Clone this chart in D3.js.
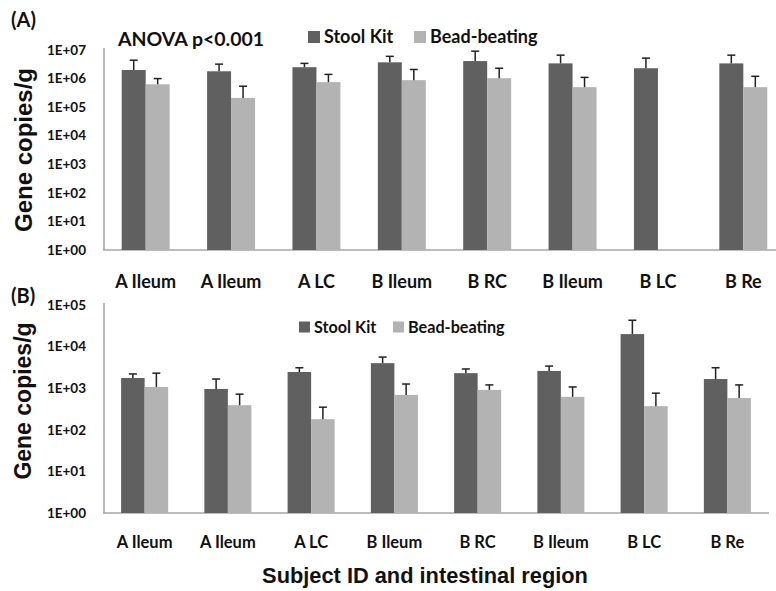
<!DOCTYPE html>
<html><head><meta charset="utf-8">
<script src="https://cdn.jsdelivr.net/npm/d3@7/dist/d3.min.js"></script>
<style>body{margin:0;background:#fff}svg{display:block}</style>
</head><body>
<svg id="c" width="776" height="591"></svg>
<script>
// ---- data ----
const categories = ["A Ileum","A Ileum","A LC","B Ileum","B RC","B Ileum","B LC","B Re"];
const seriesNames = ["Stool Kit","Bead-beating"];
// Panel A
const aStool   = [2.0e6, 1.8e6, 2.5e6, 3.7e6, 4.1e6, 3.4e6, 2.3e6, 3.4e6];
const aStoolSD = [2.4e6, 1.4e6, 0.9e6, 2.3e6, 5.0e6, 3.2e6, 2.9e6, 3.2e6];
const aBead    = [6.3e5, 2.1e5, 7.5e5, 8.8e5, 1.03e6, 5.0e5, null, 5.0e5];
const aBeadSD  = [3.7e5, 3.3e5, 6.5e5, 1.2e6, 1.27e6, 6.0e5, null, 7.0e5];
const aTicks   = ["1E+00","1E+01","1E+02","1E+03","1E+04","1E+05","1E+06","1E+07"];
// Panel B
const bStool   = [1.76e3, 9.6e2, 2.45e3, 4.0e3, 2.3e3, 2.6e3, 2.0e4, 1.66e3];
const bStoolSD = [0.44e3, 0.7e3, 0.65e3, 1.6e3, 0.6e3, 0.8e3, 2.3e4, 1.44e3];
const bBead    = [1.07e3, 3.9e2, 1.8e2, 6.9e2, 9.1e2, 6.2e2, 3.7e2, 5.8e2];
const bBeadSD  = [1.23e3, 3.3e2, 1.7e2, 5.7e2, 2.9e2, 4.5e2, 3.9e2, 6.2e2];
const bTicks   = ["1E+00","1E+01","1E+02","1E+03","1E+04","1E+05"];

const colors = ["#606060","#b3b3b3"];
const svg = d3.select("#c");
const LAT = "Lato, 'Open Sans', sans-serif";
const ARI = "'Liberation Sans', Arial, sans-serif";

function panel(o){
  const g = svg.append("g");
  const x = d3.scaleBand().domain(d3.range(categories.length)).range([o.x0, o.x1]);
  const xs = d3.scaleBand().domain([0,1]).range([0, x.bandwidth()]).paddingOuter(o.po);
  const y = d3.scaleLog().domain([1, Math.pow(10, o.ticks.length-1)]).range([o.yb, o.yt]);
  // axes
  g.append("line").attr("x1",o.x0+1).attr("x2",o.x0+1).attr("y1",o.yt-2).attr("y2",o.yb)
    .attr("stroke","#a6a6a6").attr("stroke-width",1.6);
  g.append("line").attr("x1",o.x0).attr("x2",o.x1).attr("y1",o.yb).attr("y2",o.yb)
    .attr("stroke","#a6a6a6").attr("stroke-width",1.6);
  // tick labels
  g.selectAll("text.tk").data(o.ticks).join("text")
    .attr("x",86).attr("y",(d,i)=>y(Math.pow(10,i))).attr("dy","0.35em")
    .attr("text-anchor","end").attr("font-family",LAT).attr("font-weight","bold")
    .attr("font-size",o.tickFs).attr("fill","#111").text(d=>d);
  // bars
  const series = [[o.s1,o.e1],[o.s2,o.e2]];
  series.forEach(([vals,errs],si)=>{
    vals.forEach((v,i)=>{
      if(v==null) return;
      const bx = x(i)+xs(si), bw = xs.bandwidth();
      g.append("rect").attr("x",bx).attr("y",y(v)).attr("width",bw).attr("height",o.yb-y(v))
        .attr("fill",colors[si]);
      const cx = bx+bw/2, top = y(v+errs[i]);
      g.append("line").attr("x1",cx).attr("x2",cx).attr("y1",y(v)).attr("y2",top)
        .attr("stroke","#222").attr("stroke-width",1.5);
      g.append("line").attr("x1",cx-4).attr("x2",cx+4).attr("y1",top).attr("y2",top)
        .attr("stroke","#222").attr("stroke-width",1.5);
    });
  });
  // category labels
  g.selectAll("text.cat").data(categories).join("text")
    .attr("x",(d,i)=>x(i)+x.bandwidth()/2).attr("y",o.catY).attr("dy","0.35em")
    .attr("text-anchor","middle").attr("font-family",LAT).attr("font-weight","bold")
    .attr("font-size",o.catFs).attr("fill","#111").text(d=>d);
  // legend
  o.leg.forEach((L,i)=>{
    g.append("rect").attr("x",L.x).attr("y",o.legY-L.s/2).attr("width",L.s).attr("height",L.s).attr("fill",colors[i]);
    g.append("text").attr("x",L.x+L.s+4).attr("y",o.legY).attr("dy","0.35em")
      .attr("font-family",LAT).attr("font-weight","bold").attr("font-size",o.legFs).attr("fill","#111").text(seriesNames[i]);
  });
  // y title
  g.append("text").attr("transform",`translate(${o.ytx},${o.ytc}) rotate(-90)`).attr("dy","0.35em")
    .attr("text-anchor","middle").attr("font-family",ARI).attr("font-weight","bold")
    .attr("font-size",o.ytFs).attr("fill","#111").text("Gene copies/g");
  // panel letter
  g.append("text").attr("x",11).attr("y",o.letY).attr("dy","0.35em")
    .attr("font-family",LAT).attr("font-weight","bold").attr("font-size",20).attr("fill","#111").text(o.letter);
  return g;
}

panel({x0:103, x1:786, po:0.78, yb:250, yt:50, ticks:aTicks, tickFs:13.5,
  s1:aStool, e1:aStoolSD, s2:aBead, e2:aBeadSD, catY:282, catFs:18,
  leg:[{x:308,s:12},{x:414,s:12}], legY:37, legFs:18, ytx:24, ytc:150, ytFs:24, letY:20, letter:"(A)"});
svg.append("text").attr("x",118).attr("y",39).attr("dy","0.35em")
  .attr("font-family",LAT).attr("font-weight","bold").attr("font-size",19.5).attr("fill","#111").text("ANOVA p<0.001");

panel({x0:103, x1:769, po:0.77, yb:513, yt:305, ticks:bTicks, tickFs:13.5,
  s1:bStool, e1:bStoolSD, s2:bBead, e2:bBeadSD, catY:542, catFs:16.5,
  leg:[{x:299,s:11},{x:393,s:11}], legY:327, legFs:16.2, ytx:23, ytc:401, ytFs:23, letY:296, letter:"(B)"});

svg.append("text").attr("x",425).attr("y",575).attr("dy","0.35em").attr("text-anchor","middle")
  .attr("font-family",ARI).attr("font-weight","bold").attr("font-size",21.8).attr("fill","#111")
  .text("Subject ID and intestinal region");
</script>
</body></html>
